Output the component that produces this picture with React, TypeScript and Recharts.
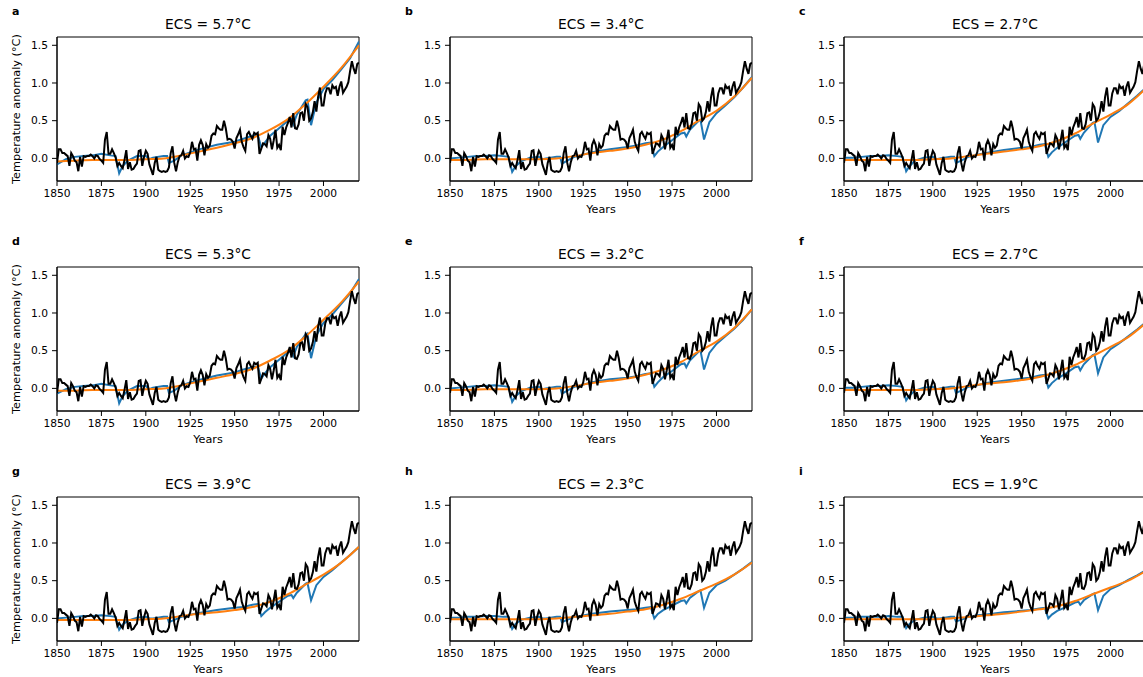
import React from "react";
import { LineChart, Line, XAxis, YAxis, ReferenceArea } from "recharts";

// Observed global temperature anomaly, one value per year from 1850
const OBS_START = 1850;
const OBS = [
  -0.06, 0.12, 0.12, 0.07, 0.07, 0.05, 0.03, -0.1, 0.07, 0.03,
  -0.03, -0.05, -0.17, 0.02, -0.11, 0.03, 0.02, 0.03, 0.03, 0.05,
  0.03, 0.0, 0.04, 0.03, -0.01, -0.03, -0.06, 0.25, 0.35, 0.06,
  0.06, 0.12, 0.07, 0.01, -0.1, -0.06, -0.1, -0.13, -0.02, 0.11,
  -0.14, -0.05, -0.15, -0.14, -0.1, -0.07, 0.1, 0.11, -0.1, 0.02,
  0.1, 0.06, -0.08, -0.15, -0.22, -0.06, 0.02, -0.15, -0.17, -0.18,
  -0.17, -0.18, -0.17, -0.12, 0.07, 0.16, -0.06, -0.17, -0.05, 0.03,
  0.04, 0.1, 0.0, 0.03, 0.02, 0.08, 0.22, 0.12, 0.13, -0.03,
  0.18, 0.24, 0.18, 0.04, 0.19, 0.14, 0.17, 0.3, 0.33, 0.32,
  0.43, 0.4, 0.38, 0.38, 0.5, 0.4, 0.25, 0.26, 0.25, 0.22,
  0.13, 0.27, 0.32, 0.38, 0.22, 0.15, 0.1, 0.32, 0.35, 0.3,
  0.26, 0.34, 0.32, 0.34, 0.06, 0.13, 0.2, 0.19, 0.16, 0.31,
  0.26, 0.12, 0.24, 0.38, 0.14, 0.18, 0.11, 0.42, 0.31, 0.41,
  0.47, 0.55, 0.41, 0.6, 0.4, 0.39, 0.45, 0.6, 0.61, 0.5,
  0.72, 0.68, 0.5, 0.53, 0.61, 0.76, 0.62, 0.82, 0.94, 0.7,
  0.7, 0.86, 0.93, 0.93, 0.85, 0.97, 0.93, 0.95, 0.83, 0.95,
  1.02, 0.87, 0.91, 0.95, 1.01, 1.16, 1.29, 1.19, 1.12, 1.25,
  1.27,
];

// Model run with volcanic forcing (blue), sampled at these years
const BLUE_YEARS = [
  1850, 1855, 1860, 1865, 1870, 1875, 1880, 1883, 1885, 1887,
  1890, 1895, 1900, 1902, 1904, 1910, 1912, 1913, 1916, 1920,
  1925, 1930, 1940, 1950, 1955, 1960, 1963, 1965, 1967, 1970,
  1975, 1980, 1982, 1983, 1985, 1990, 1991, 1993, 1996, 2000,
  2005, 2010, 2015, 2020,
];

const BLUE_A = [
  -0.08, -0.01, 0.02, 0.03, 0.04, 0.06, 0.04, 0.03, -0.2, -0.1,
  -0.03, 0.03, 0.03, -0.01, 0.01, 0.03, 0.03, -0.06, -0.03, 0.04,
  0.08, 0.12, 0.18, 0.22, 0.26, 0.3, 0.31, 0.15, 0.21, 0.3,
  0.4, 0.5, 0.52, 0.45, 0.58, 0.77, 0.78, 0.44, 0.74, 0.92,
  1.04, 1.18, 1.33, 1.55,
];
const BLUE_B = [
  0.0, 0.01, 0.02, 0.03, 0.03, 0.04, 0.03, 0.02, -0.18, -0.1,
  -0.04, 0.01, 0.02, -0.01, 0.0, 0.02, 0.02, -0.07, -0.03, 0.02,
  0.05, 0.08, 0.12, 0.15, 0.17, 0.2, 0.21, 0.03, 0.09, 0.15,
  0.24, 0.33, 0.34, 0.29, 0.38, 0.5, 0.51, 0.25, 0.48, 0.6,
  0.7, 0.81, 0.94, 1.08,
];
const BLUE_C = [
  0.01, 0.01, 0.02, 0.03, 0.03, 0.04, 0.03, 0.02, -0.17, -0.1,
  -0.03, 0.01, 0.02, -0.01, 0.0, 0.02, 0.02, -0.06, -0.03, 0.02,
  0.05, 0.07, 0.11, 0.14, 0.15, 0.18, 0.19, 0.02, 0.08, 0.14,
  0.22, 0.3, 0.31, 0.26, 0.34, 0.47, 0.48, 0.21, 0.44, 0.55,
  0.63, 0.73, 0.83, 0.94,
];
const BLUE_D = [
  -0.07, -0.01, 0.02, 0.03, 0.04, 0.06, 0.04, 0.03, -0.2, -0.1,
  -0.03, 0.03, 0.03, -0.01, 0.01, 0.03, 0.03, -0.06, -0.03, 0.04,
  0.08, 0.11, 0.17, 0.21, 0.25, 0.28, 0.29, 0.13, 0.2, 0.28,
  0.38, 0.48, 0.49, 0.43, 0.55, 0.72, 0.73, 0.4, 0.7, 0.87,
  0.98, 1.12, 1.26, 1.45,
];
const BLUE_E = [
  0.0, 0.01, 0.02, 0.03, 0.03, 0.04, 0.03, 0.02, -0.18, -0.1,
  -0.04, 0.01, 0.02, -0.01, 0.0, 0.02, 0.02, -0.07, -0.03, 0.02,
  0.05, 0.08, 0.12, 0.14, 0.16, 0.19, 0.2, 0.02, 0.08, 0.15,
  0.23, 0.32, 0.33, 0.28, 0.37, 0.49, 0.5, 0.25, 0.47, 0.59,
  0.69, 0.79, 0.91, 1.05,
];
const BLUE_F = [
  0.01, 0.01, 0.02, 0.03, 0.03, 0.04, 0.03, 0.02, -0.16, -0.09,
  -0.03, 0.01, 0.02, -0.01, 0.0, 0.02, 0.02, -0.06, -0.03, 0.02,
  0.04, 0.07, 0.1, 0.13, 0.14, 0.17, 0.18, 0.01, 0.07, 0.13,
  0.2, 0.28, 0.29, 0.24, 0.32, 0.44, 0.45, 0.2, 0.41, 0.52,
  0.6, 0.69, 0.78, 0.88,
];
const BLUE_G = [
  0.0, 0.01, 0.02, 0.03, 0.03, 0.04, 0.03, 0.02, -0.15, -0.08,
  -0.03, 0.01, 0.02, 0.0, 0.0, 0.02, 0.02, -0.05, -0.02, 0.02,
  0.05, 0.07, 0.11, 0.14, 0.15, 0.18, 0.19, 0.03, 0.08, 0.14,
  0.22, 0.3, 0.31, 0.27, 0.34, 0.46, 0.47, 0.24, 0.44, 0.55,
  0.64, 0.74, 0.84, 0.95,
];
const BLUE_H = [
  0.01, 0.01, 0.02, 0.02, 0.03, 0.03, 0.02, 0.02, -0.14, -0.07,
  -0.02, 0.01, 0.02, 0.0, 0.0, 0.02, 0.02, -0.05, -0.02, 0.02,
  0.04, 0.06, 0.09, 0.11, 0.12, 0.14, 0.15, 0.0, 0.06, 0.11,
  0.17, 0.23, 0.24, 0.2, 0.27, 0.36, 0.37, 0.14, 0.34, 0.44,
  0.5, 0.58, 0.66, 0.75,
];
const BLUE_I = [
  0.01, 0.01, 0.02, 0.02, 0.02, 0.03, 0.02, 0.02, -0.13, -0.07,
  -0.02, 0.01, 0.02, 0.0, 0.0, 0.02, 0.02, -0.04, -0.02, 0.02,
  0.04, 0.05, 0.08, 0.1, 0.11, 0.13, 0.14, 0.0, 0.05, 0.1,
  0.15, 0.21, 0.22, 0.18, 0.24, 0.32, 0.33, 0.11, 0.3, 0.39,
  0.44, 0.51, 0.57, 0.64,
];

// Smooth model response without volcanoes (orange), every decade
const ORANGE_YEARS = [
  1850, 1860, 1870, 1880, 1890, 1900, 1910, 1920, 1930,
  1940, 1950, 1960, 1970, 1980, 1990, 2000, 2010, 2020,
];
const ORANGE_A = [-0.04, -0.03, -0.02, -0.02, -0.02, -0.01, 0.0, 0.04, 0.09, 0.14, 0.2, 0.27, 0.38, 0.52, 0.72, 0.95, 1.2, 1.5];
const ORANGE_B = [-0.02, -0.02, -0.01, -0.01, -0.01, -0.01, 0.0, 0.03, 0.07, 0.1, 0.13, 0.18, 0.25, 0.36, 0.5, 0.63, 0.82, 1.07];
const ORANGE_C = [-0.02, -0.02, -0.02, -0.02, -0.02, -0.01, 0.0, 0.03, 0.06, 0.09, 0.12, 0.16, 0.23, 0.33, 0.46, 0.58, 0.72, 0.93];
const ORANGE_D = [-0.03, -0.03, -0.02, -0.02, -0.02, -0.01, 0.0, 0.04, 0.09, 0.14, 0.19, 0.26, 0.37, 0.5, 0.69, 0.91, 1.14, 1.42];
const ORANGE_E = [-0.02, -0.02, -0.01, -0.01, -0.01, -0.01, 0.0, 0.03, 0.07, 0.1, 0.13, 0.18, 0.25, 0.35, 0.49, 0.62, 0.8, 1.05];
const ORANGE_F = [-0.02, -0.02, -0.02, -0.02, -0.02, -0.01, 0.0, 0.03, 0.06, 0.08, 0.11, 0.15, 0.22, 0.31, 0.43, 0.55, 0.68, 0.87];
const ORANGE_G = [-0.02, -0.02, -0.02, -0.02, -0.02, -0.01, 0.0, 0.03, 0.06, 0.08, 0.11, 0.15, 0.22, 0.32, 0.45, 0.58, 0.74, 0.95];
const ORANGE_H = [-0.01, -0.01, -0.01, -0.01, -0.01, -0.01, 0.0, 0.02, 0.04, 0.06, 0.09, 0.12, 0.18, 0.26, 0.36, 0.46, 0.58, 0.74];
const ORANGE_I = [-0.01, -0.01, -0.01, -0.01, -0.01, -0.01, 0.0, 0.02, 0.04, 0.06, 0.09, 0.12, 0.16, 0.23, 0.32, 0.41, 0.5, 0.63];

const LETTERS = ["a", "b", "c", "d", "e", "f", "g", "h", "i"];
const ECS = ["5.7", "3.4", "2.7", "5.3", "3.2", "2.7", "3.9", "2.3", "1.9"];
const BLUE = [BLUE_A, BLUE_B, BLUE_C, BLUE_D, BLUE_E, BLUE_F, BLUE_G, BLUE_H, BLUE_I];
const ORANGE = [ORANGE_A, ORANGE_B, ORANGE_C, ORANGE_D, ORANGE_E, ORANGE_F, ORANGE_G, ORANGE_H, ORANGE_I];

const X_TICKS = [1850, 1875, 1900, 1925, 1950, 1975, 2000];
const Y_TICKS = [0, 0.5, 1, 1.5];
const Y_MIN = -0.3;
const Y_MAX = 1.61;

const COL_LEFT = [57, 450, 844];
const ROW_TOP = [37, 267, 497];
const PLOT_W = 302;
const PLOT_H = 144;
const FONT = "'DejaVu Sans', sans-serif";

const obsData = OBS.map((t, i) => ({ year: OBS_START + i, t }));

const Panel = ({ idx }: { idx: number }) => {
  const left = COL_LEFT[idx % 3];
  const top = ROW_TOP[Math.floor(idx / 3)];
  const blue = BLUE_YEARS.map((year, i) => ({ year, t: BLUE[idx][i] }));
  const orange = ORANGE_YEARS.map((year, i) => ({ year, t: ORANGE[idx][i] }));
  const tick = { fill: "#000", fontSize: 10.7, fontFamily: FONT };

  return (
    <div style={{ position: "absolute", left: left - 50, top: top - 30 }}>
      <LineChart width={PLOT_W + 70} height={PLOT_H + 70} margin={{ top: 30, right: 20, bottom: 10, left: 0 }}>
        <XAxis
          type="number"
          dataKey="year"
          domain={[1850, 2020]}
          ticks={X_TICKS}
          interval={0}
          height={30}
          tickSize={5}
          tickMargin={3}
          stroke="#000"
          tick={tick}
          allowDataOverflow
        />
        <YAxis
          type="number"
          domain={[Y_MIN, Y_MAX]}
          ticks={Y_TICKS}
          interval={0}
          width={50}
          tickSize={5}
          tickMargin={4}
          stroke="#000"
          tick={tick}
          tickFormatter={(v: number) => v.toFixed(1)}
          allowDataOverflow
        />
        <ReferenceArea x1={1850} x2={2020} y1={Y_MIN} y2={Y_MAX} fill="none" stroke="#000" strokeWidth={1} fillOpacity={0} />
        <Line data={blue} dataKey="t" type="linear" stroke="#1f77b4" strokeWidth={2} dot={false} isAnimationActive={false} />
        <Line data={orange} dataKey="t" type="monotone" stroke="#ff7f0e" strokeWidth={2} dot={false} isAnimationActive={false} />
        <Line data={obsData} dataKey="t" type="linear" stroke="#000" strokeWidth={2} dot={false} isAnimationActive={false} />
      </LineChart>
    </div>
  );
};

export default function App() {
  return (
    <div style={{ position: "fixed", left: 0, top: 0, width: 1143, height: 677, overflow: "hidden", background: "#fff", fontFamily: FONT }}>
      {LETTERS.map((_, i) => (
        <Panel key={i} idx={i} />
      ))}
      <svg width={1143} height={677} style={{ position: "absolute", left: 0, top: 0, pointerEvents: "none" }}>
        {LETTERS.map((letter, i) => {
          const left = COL_LEFT[i % 3];
          const top = ROW_TOP[Math.floor(i / 3)];
          return (
            <g key={letter} fontFamily={FONT} fill="#000">
              <text x={left - 45} y={top - 22} fontSize={11} fontWeight="bold">{letter}</text>
              <text x={left + PLOT_W / 2} y={top - 8} fontSize={13.8} textAnchor="middle">{`ECS = ${ECS[i]}°C`}</text>
              <text x={left + PLOT_W / 2} y={top + PLOT_H + 32} fontSize={11.2} textAnchor="middle">Years</text>
              {i % 3 === 0 && (
                <text
                  x={0}
                  y={0}
                  fontSize={11.3}
                  textAnchor="middle"
                  transform={`translate(20, ${top + PLOT_H / 2}) rotate(-90)`}
                >
                  Temperature anomaly (°C)
                </text>
              )}
            </g>
          );
        })}
      </svg>
    </div>
  );
}
